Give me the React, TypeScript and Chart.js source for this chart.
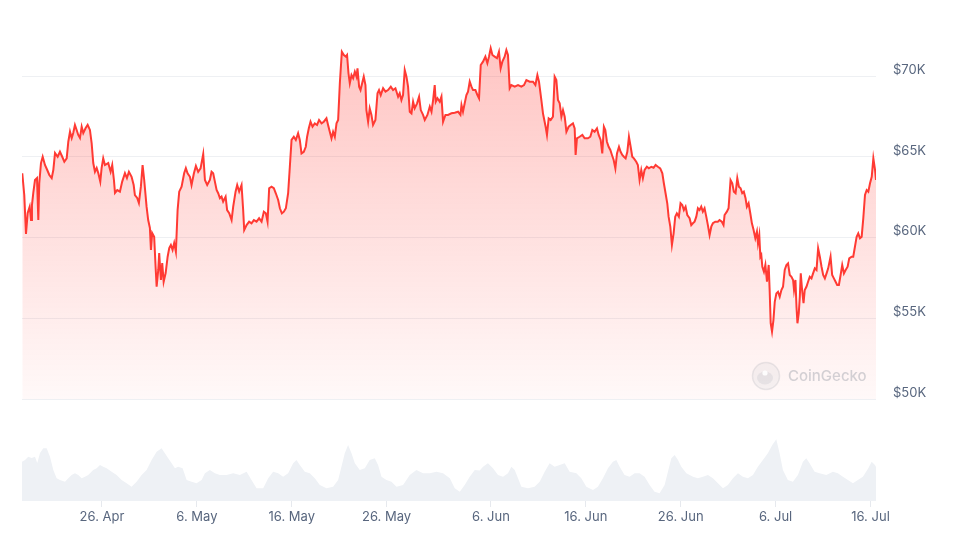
import { useEffect, useRef } from 'react';
import { Chart, registerables } from 'chart.js';

Chart.register(...registerables);

// Days counted from 16 Apr 2024 00:00
const tickDays = [10, 20, 30, 40, 51, 61, 71, 81, 91];
const tickLabels = ['26. Apr', '6. May', '16. May', '26. May', '6. Jun', '16. Jun', '26. Jun', '6. Jul', '16. Jul'];
const priceTicks = [50000, 55000, 60000, 65000, 70000];

// [day, price USD]
const pricePoints: [number, number][] = [
  [1.60, 63980], [1.81, 62630], [1.99, 60220], [2.17, 61520], [2.38, 61910], [2.52, 61080], [2.62, 62010], [2.76, 62760],
  [2.94, 63560], [3.15, 63680], [3.29, 61080], [3.39, 63370], [3.57, 64610], [3.75, 65000], [3.99, 64490], [4.23, 64180],
  [4.45, 63870], [4.70, 63680], [4.87, 64180], [5.05, 65230], [5.33, 65000], [5.57, 65310], [5.81, 65000], [6.03, 64690],
  [6.28, 64900], [6.45, 65930], [6.63, 66550], [6.81, 66160], [6.97, 66470], [7.15, 66970], [7.33, 66660], [7.50, 66350],
  [7.68, 66160], [7.86, 66860], [8.03, 66470], [8.28, 66780], [8.49, 66970], [8.73, 66660], [8.91, 65850], [9.08, 64610],
  [9.26, 64070], [9.44, 64300], [9.61, 63990], [9.82, 63460], [9.96, 64300], [10.13, 64900], [10.31, 64490], [10.66, 64610],
  [10.91, 64070], [11.08, 64490], [11.26, 63560], [11.37, 62760], [11.61, 62940], [11.89, 62840], [12.13, 63460], [12.42, 63980],
  [12.63, 63680], [12.84, 64070], [13.12, 63760], [13.34, 63250], [13.47, 62630], [13.71, 62450], [13.89, 62140], [14.10, 63150],
  [14.28, 64490], [14.45, 63560], [14.70, 61910], [14.87, 61080], [15.05, 60590], [15.16, 59230], [15.29, 60280], [15.50, 60050],
  [15.65, 58190], [15.76, 56950], [15.93, 57990], [16.03, 59040], [16.21, 57370], [16.35, 58420], [16.50, 57260], [16.71, 57800],
  [16.92, 58810], [17.09, 59350], [17.26, 59540], [17.44, 59230], [17.61, 59660], [17.79, 59120], [17.97, 61700], [18.14, 62840],
  [18.39, 63150], [18.66, 63980], [18.84, 64300], [19.02, 63980], [19.27, 63760], [19.44, 63250], [19.69, 63980], [19.90, 64430],
  [20.14, 64070], [20.39, 64280], [20.67, 65170], [20.85, 63560], [21.09, 63250], [21.37, 63560], [21.55, 64070], [21.72, 63980],
  [21.90, 63460], [22.08, 62940], [22.25, 62740], [22.43, 62430], [22.60, 62530], [22.77, 62220], [23.03, 62530], [23.19, 61700],
  [23.41, 61500], [23.66, 61080], [23.83, 61910], [24.08, 62840], [24.25, 63250], [24.46, 62840], [24.71, 63250], [24.88, 61700],
  [24.99, 60460], [25.24, 60770], [25.51, 60980], [25.76, 60880], [26.01, 61080], [26.29, 60980], [26.56, 61190], [26.82, 60980],
  [27.06, 61600], [27.27, 61500], [27.45, 60980], [27.62, 63050], [27.87, 63150], [28.11, 63050], [28.32, 62740], [28.57, 62320],
  [28.75, 61810], [28.96, 61500], [29.17, 61600], [29.38, 61810], [29.62, 62740], [29.80, 64380], [29.98, 66040], [30.22, 66240],
  [30.43, 66040], [30.67, 66450], [30.85, 66040], [31.03, 65210], [31.27, 65310], [31.48, 65620], [31.62, 66240], [31.80, 66760],
  [31.98, 67170], [32.19, 66860], [32.43, 67070], [32.67, 66970], [32.88, 67280], [33.14, 67070], [33.38, 67170], [33.66, 67380],
  [33.83, 66970], [34.01, 66550], [34.19, 66140], [34.36, 66550], [34.54, 66240], [34.72, 67070], [34.89, 67280], [35.07, 69550],
  [35.28, 71500], [35.49, 71300], [35.70, 71200], [35.83, 71300], [35.98, 70170], [36.12, 69550], [36.30, 70060], [36.47, 69860],
  [36.65, 70270], [36.83, 69960], [36.93, 70480], [37.10, 69340], [37.25, 69130], [37.46, 69650], [37.59, 69960], [37.77, 69440],
  [37.87, 67890], [38.05, 67170], [38.22, 68000], [38.40, 67590], [38.57, 66970], [38.82, 67280], [39.04, 68930], [39.20, 69130],
  [39.38, 68820], [39.63, 69240], [39.88, 69030], [40.15, 69130], [40.44, 69340], [40.68, 69130], [40.93, 69240], [41.21, 68720],
  [41.38, 68930], [41.56, 68510], [41.73, 68820], [41.91, 70370], [42.09, 69960], [42.26, 69340], [42.44, 67790], [42.62, 67690],
  [42.79, 68410], [42.96, 68000], [43.21, 68310], [43.42, 68720], [43.60, 67890], [43.84, 67590], [44.02, 67280], [44.30, 67590],
  [44.55, 68100], [44.73, 67790], [44.90, 68510], [45.07, 69440], [45.18, 68410], [45.36, 68620], [45.60, 68410], [45.78, 68720],
  [45.95, 67170], [46.20, 67590], [46.47, 67590], [46.83, 67690], [47.18, 67730], [47.53, 67790], [47.78, 67590], [47.89, 68200],
  [48.05, 67790], [48.23, 68310], [48.41, 68820], [48.58, 69030], [48.76, 69650], [48.94, 69340], [49.11, 69130], [49.36, 69130],
  [49.57, 68820], [49.74, 68620], [49.92, 70680], [50.16, 70890], [50.41, 71200], [50.62, 70790], [50.79, 71200], [50.97, 71720],
  [51.15, 71300], [51.39, 71200], [51.63, 71100], [51.84, 71500], [52.02, 70480], [52.20, 70890], [52.44, 71200], [52.62, 71610],
  [52.79, 71300], [52.97, 69240], [53.15, 69440], [53.50, 69340], [53.85, 69440], [54.20, 69340], [54.48, 69440], [54.73, 69750],
  [55.08, 69650], [55.43, 69650], [55.68, 69440], [55.89, 70060], [56.06, 69650], [56.31, 68510], [56.48, 67690], [56.55, 67480],
  [56.76, 66860], [56.90, 66350], [57.08, 67380], [57.29, 67280], [57.53, 67480], [57.71, 69960], [57.89, 69750], [58.06, 68510],
  [58.24, 68310], [58.42, 67480], [58.59, 67890], [58.77, 67480], [58.95, 66550], [59.19, 66860], [59.40, 66970], [59.64, 67070],
  [59.82, 66760], [59.92, 65110], [60.06, 66140], [60.34, 66240], [60.63, 66350], [60.87, 66140], [61.22, 66140], [61.47, 66240],
  [61.68, 66660], [61.92, 66550], [62.17, 66760], [62.35, 66350], [62.56, 66040], [62.73, 65210], [62.90, 66860], [63.05, 66660],
  [63.22, 65930], [63.40, 65620], [63.58, 65420], [63.75, 65110], [63.93, 64800], [64.11, 64280], [64.28, 65210], [64.49, 65620],
  [64.66, 65310], [64.84, 65110], [65.01, 65000], [65.19, 64900], [65.37, 65310], [65.54, 66240], [65.72, 65620], [65.89, 65000],
  [66.06, 64900], [66.31, 64690], [66.48, 64490], [66.66, 63560], [66.84, 64180], [67.01, 63670], [67.19, 64180], [67.43, 64380],
  [67.64, 64280], [67.90, 64380], [68.14, 64320], [68.35, 64490], [68.59, 64380], [68.84, 64280], [69.06, 63980], [69.22, 63360],
  [69.40, 62740], [69.58, 62120], [69.72, 61290], [69.90, 60670], [70.07, 59540], [70.25, 60260], [70.42, 61290], [70.59, 61500],
  [70.80, 61290], [70.98, 62120], [71.16, 62010], [71.33, 61700], [71.51, 61910], [71.69, 61390], [71.93, 61190], [72.11, 60770],
  [72.28, 60880], [72.46, 60980], [72.64, 61290], [72.81, 61810], [72.98, 61700], [73.16, 61910], [73.33, 61600], [73.51, 61810],
  [73.69, 61290], [73.86, 60770], [74.04, 60150], [74.22, 60670], [74.39, 60880], [74.64, 60980], [74.91, 60980], [75.09, 61080],
  [75.33, 60980], [75.51, 60770], [75.62, 61390], [75.86, 61600], [76.04, 61810], [76.25, 63560], [76.43, 63360], [76.60, 62840],
  [76.78, 62740], [76.96, 63670], [77.13, 63150], [77.31, 63050], [77.48, 62740], [77.65, 62840], [77.83, 62430], [77.97, 61910],
  [78.15, 62120], [78.33, 61500], [78.50, 60880], [78.68, 60460], [78.86, 59950], [79.03, 60360], [79.14, 59640], [79.28, 60150],
  [79.39, 58810], [79.49, 58920], [79.60, 58190], [79.77, 57880], [79.92, 58300], [80.09, 57260], [80.27, 58300], [80.37, 56750],
  [80.48, 54690], [80.62, 54170], [80.77, 54890], [80.91, 56020], [81.08, 56540], [81.25, 56640], [81.43, 56330], [81.61, 56750],
  [81.78, 56950], [81.96, 57990], [82.14, 58300], [82.31, 58400], [82.49, 57680], [82.67, 57570], [82.84, 57370], [82.94, 56750],
  [83.09, 57370], [83.20, 55710], [83.30, 54690], [83.44, 55310], [83.55, 56330], [83.65, 57780], [83.79, 56750], [83.94, 55930],
  [84.07, 56750], [84.25, 56950], [84.42, 57260], [84.60, 57570], [84.78, 57470], [84.95, 57780], [85.13, 58090], [85.31, 57990],
  [85.48, 59330], [85.66, 58810], [85.84, 58190], [86.01, 57680], [86.19, 57470], [86.37, 57780], [86.54, 58090], [86.79, 58810],
  [86.96, 57680], [87.14, 57470], [87.32, 57260], [87.49, 57060], [87.67, 57060], [87.85, 57680], [88.02, 58300], [88.20, 57780],
  [88.38, 57990], [88.59, 58190], [88.76, 58710], [89.01, 58810], [89.18, 58810], [89.36, 59430], [89.54, 60050], [89.71, 60260],
  [89.89, 59950], [90.07, 60050], [90.24, 61190], [90.42, 62630], [90.60, 62940], [90.77, 62840], [90.95, 63360], [91.13, 63760],
  [91.30, 64900], [91.48, 64180], [91.58, 63560],
];

// [day, 24h volume in billion USD]
const volumePoints: [number, number][] = [
  [1.57, 39.3], [1.89, 41], [2.23, 44.3], [2.59, 43], [2.94, 44.3], [3.18, 38], [3.47, 48], [3.81, 52.7],
  [4.17, 52.7], [4.52, 44.3], [4.87, 31], [5.22, 22.7], [5.57, 21], [6.10, 19.3], [6.45, 22.7], [6.80, 26],
  [7.15, 27.7], [7.50, 26], [7.86, 22.7], [8.21, 24.3], [8.55, 26], [9.08, 31], [9.44, 32.7], [9.79, 36],
  [10.13, 34.3], [10.49, 32.7], [11.02, 29.3], [11.54, 26], [12.07, 21], [12.60, 17.7], [13.12, 14.3], [13.65, 19.3],
  [14.18, 26], [14.70, 31], [15.23, 41], [15.76, 49.3], [16.28, 52.7], [16.63, 47.7], [16.98, 42.7], [17.34, 37.7],
  [17.69, 32.7], [18.03, 34.3], [18.50, 32.7], [18.92, 21], [19.44, 19.3], [19.97, 17.7], [20.50, 21], [20.85, 27.7],
  [21.37, 31], [21.90, 27.7], [22.43, 26], [23.13, 26], [23.83, 27.7], [24.53, 26], [25.24, 29.3], [25.76, 21],
  [26.29, 12.7], [26.99, 12.7], [27.52, 22.7], [28.04, 29.3], [28.57, 27.7], [29.09, 24.3], [29.62, 27.7], [30.15, 37.7],
  [30.50, 41], [30.85, 36], [31.38, 29.3], [31.90, 27.7], [32.43, 22.7], [32.96, 16], [33.66, 12.7], [34.36, 14.3],
  [34.89, 21], [35.24, 34.3], [35.59, 47.7], [35.94, 56], [36.30, 47.7], [36.65, 37.7], [37.17, 31], [37.70, 32.7],
  [38.22, 41], [38.75, 42.7], [39.10, 36], [39.46, 24.3], [39.98, 21], [40.51, 19.3], [41.04, 14.3], [41.73, 16],
  [42.44, 26], [43.14, 31], [43.84, 27.7], [44.55, 27.7], [45.25, 29.3], [45.95, 27.7], [46.66, 22.7], [47.18, 12.7],
  [47.71, 9.3], [48.23, 16], [48.76, 24.3], [49.29, 31], [49.81, 30.5], [50.16, 34.3], [50.68, 37.7], [51.21, 32.7],
  [51.74, 26], [52.27, 24.3], [52.79, 27.7], [53.15, 34.3], [53.50, 31], [53.85, 22.7], [54.20, 14.3], [54.90, 12.7],
  [55.60, 14.3], [56.13, 19.3], [56.66, 29.3], [57.18, 37.7], [57.71, 34.3], [58.24, 36], [58.77, 37.7], [59.29, 29.3],
  [60.00, 27.7], [60.52, 22.7], [61.05, 14.3], [61.75, 11], [62.27, 14.3], [62.80, 22.7], [63.33, 32.7], [63.85, 39.3],
  [64.21, 41], [64.56, 34.3], [65.08, 26], [65.61, 24.3], [66.14, 27.7], [66.66, 27.7], [67.19, 24.3], [67.72, 16],
  [68.24, 9.3], [68.77, 7.7], [69.30, 16], [69.65, 29.3], [70.01, 42.7], [70.36, 46], [70.71, 41], [71.06, 34.3],
  [71.59, 27.7], [72.29, 24.3], [72.81, 22.7], [73.34, 24.3], [73.87, 26], [74.39, 22.7], [74.92, 17.7], [75.45, 12.7],
  [75.97, 16], [76.50, 22.7], [77.03, 27.7], [77.55, 24.3], [78.08, 22.7], [78.61, 26], [79.13, 34.3], [79.66, 41],
  [80.18, 47.7], [80.65, 56], [81.07, 61.7], [81.42, 47.7], [81.77, 31], [82.29, 21], [82.82, 19.3], [83.35, 26],
  [83.88, 39.3], [84.23, 42.7], [84.58, 37.7], [85.11, 29.3], [85.63, 27.7], [86.34, 26], [87.04, 29.3], [87.56, 27.7],
  [88.09, 24.3], [88.62, 21], [89.15, 17.7], [89.67, 21], [90.20, 24.3], [90.77, 32.7], [91.12, 39.3], [91.47, 36],
  [91.58, 34],
];

const LABEL_COLOR = '#58667e';
const FONT_FAMILY = 'Inter, "Noto Sans", sans-serif';

export default function App() {
  const canvasRef = useRef<HTMLCanvasElement | null>(null);

  useEffect(() => {
    const canvas = canvasRef.current;
    if (!canvas) return;

    const watermark = {
      id: 'watermark',
      afterDatasetsDraw(chart: any) {
        const { ctx, chartArea } = chart;
        const cx = chartArea.right - 110;
        const cy = chartArea.top + 336;
        ctx.save();
        ctx.beginPath();
        ctx.arc(cx, cy, 13.5, 0, Math.PI * 2);
        ctx.fillStyle = 'rgba(160,165,175,0.10)';
        ctx.fill();
        ctx.lineWidth = 1.5;
        ctx.strokeStyle = 'rgba(160,165,175,0.22)';
        ctx.stroke();
        ctx.beginPath();
        ctx.ellipse(cx - 1, cy + 2, 8, 6.5, 0, 0, Math.PI * 2);
        ctx.fillStyle = 'rgba(160,165,175,0.18)';
        ctx.fill();
        ctx.beginPath();
        ctx.arc(cx - 1, cy - 3, 2.6, 0, Math.PI * 2);
        ctx.fillStyle = 'rgba(255,255,255,0.9)';
        ctx.fill();
        ctx.font = '500 15px ' + FONT_FAMILY;
        ctx.fillStyle = 'rgba(150,155,165,0.42)';
        ctx.textBaseline = 'middle';
        ctx.textAlign = 'left';
        ctx.fillText('CoinGecko', cx + 22, cy);
        ctx.restore();
      },
    };

    const chart = new Chart(canvas, {
      type: 'line',
      data: {
        datasets: [
          {
            label: 'Price',
            data: pricePoints.map(([x, y]) => ({ x, y })),
            yAxisID: 'y',
            borderColor: '#ff3a33',
            borderWidth: 2,
            pointRadius: 0,
            tension: 0,
            fill: { value: 50000 },
            backgroundColor: (c: any) => {
              const ch = c.chart;
              const area = ch.chartArea;
              if (!area) return 'rgba(255,58,51,0.15)';
              const bottom = ch.scales.y.getPixelForValue(50000);
              const g = ch.ctx.createLinearGradient(0, area.top, 0, bottom);
              g.addColorStop(0, 'rgba(255,58,51,0.30)');
              g.addColorStop(1, 'rgba(255,58,51,0.03)');
              return g;
            },
            order: 1,
          },
          {
            label: 'Volume',
            data: volumePoints.map(([x, y]) => ({ x, y })),
            yAxisID: 'yVol',
            borderWidth: 0,
            borderColor: 'rgba(0,0,0,0)',
            pointRadius: 0,
            tension: 0,
            fill: 'origin',
            backgroundColor: '#eef1f5',
            order: 2,
          },
        ],
      },
      options: {
        animation: false,
        responsive: true,
        maintainAspectRatio: false,
        layout: { padding: { left: 22, top: 40, right: 0, bottom: 0 } },
        plugins: {
          legend: { display: false },
          tooltip: { enabled: false },
        },
        scales: {
          x: {
            type: 'linear',
            min: 1.57,
            max: 91.58,
            afterBuildTicks: (s: any) => {
              s.ticks = tickDays.map((v) => ({ value: v }));
            },
            afterFit: (s: any) => {
              s.height = 47;
            },
            ticks: {
              autoSkip: false,
              maxRotation: 0,
              padding: 2,
              color: LABEL_COLOR,
              font: { family: FONT_FAMILY, size: 13 },
              callback: (v: any) => {
                const i = tickDays.indexOf(Number(v));
                return i >= 0 ? tickLabels[i] : '';
              },
            },
            grid: { drawOnChartArea: false, drawTicks: true, tickLength: 6, color: '#e6e9ee' },
            border: { display: false },
          },
          y: {
            position: 'right',
            min: 43684,
            max: 72230,
            afterBuildTicks: (s: any) => {
              s.ticks = priceTicks.map((v) => ({ value: v }));
            },
            afterFit: (s: any) => {
              s.width = 84;
            },
            ticks: {
              padding: 17,
              labelOffset: -6,
              color: LABEL_COLOR,
              font: { family: FONT_FAMILY, size: 13 },
              callback: (v: any) => '$' + Number(v) / 1000 + 'K',
            },
            grid: { color: '#eef0f3', drawTicks: false },
            border: { display: false },
          },
          yVol: {
            display: false,
            min: 0,
            max: 461,
          },
        },
      },
      plugins: [watermark],
    });

    return () => chart.destroy();
  }, []);

  return (
    <div style={{ position: 'absolute', left: 0, top: 0, width: 960, height: 548, background: '#ffffff' }}>
      <canvas ref={canvasRef} />
    </div>
  );
}
